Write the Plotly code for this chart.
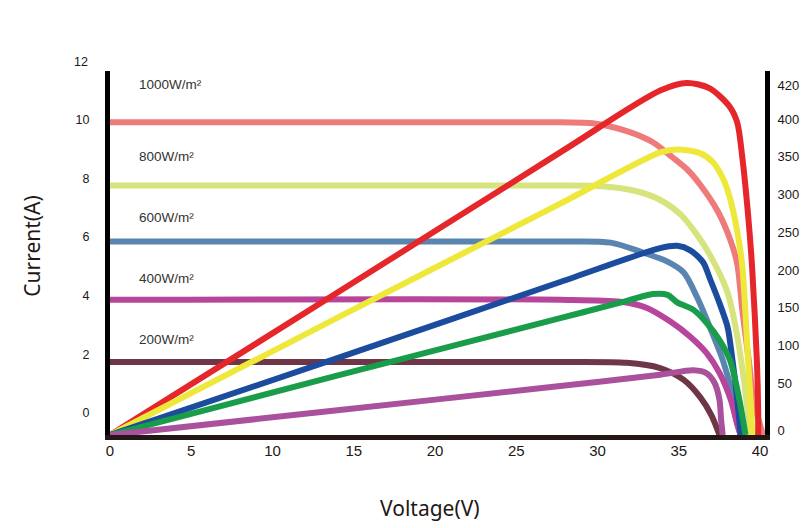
import plotly.graph_objects as go

# ---- I-V curves (current, A) ----
v_iv_1000 = [0, 27.7, 29.7, 31.8, 33.4, 34.6, 35.5, 36.3, 37.4, 38.2, 38.6, 38.9, 39.3, 39.6, 40.0, 40.2]
i_iv_1000 = [9.91, 9.91, 9.88, 9.61, 9.23, 8.72, 8.31, 7.79, 6.87, 5.85, 5.06, 3.52, 1.81, 0.44, -0.41, -0.75]

v_iv_800 = [0, 27.7, 30.3, 32.4, 33.8, 35.1, 36.1, 36.9, 38.0, 38.6, 39.0, 39.3, 39.45]
i_iv_800 = [7.76, 7.76, 7.73, 7.56, 7.28, 6.77, 6.09, 5.40, 4.10, 2.60, 1.13, -0.24, -0.75]

v_iv_600 = [0, 27.7, 30.8, 32.8, 34.3, 35.3, 36.1, 36.9, 37.7, 38.3, 38.65, 38.8]
i_iv_600 = [5.85, 5.85, 5.81, 5.47, 5.16, 4.79, 3.97, 2.94, 1.81, 0.62, -0.41, -0.75]

v_iv_400 = [0, 27.7, 31.4, 33.0, 34.5, 35.7, 36.7, 37.5, 38.2, 38.6, 38.8]
i_iv_400 = [3.86, 3.86, 3.79, 3.59, 3.11, 2.60, 2.05, 1.37, 0.44, -0.41, -0.75]

v_iv_200 = [0, 27.7, 31.8, 33.8, 35.3, 36.3, 37.0, 37.5]
i_iv_200 = [1.74, 1.74, 1.71, 1.54, 1.13, 0.55, -0.07, -0.75]

# ---- P-V curves (power, W) ----
v_pv_1000 = [0, 13.85, 27.7, 33.85, 35.5, 36.9, 38.15, 38.6, 38.9, 39.26, 39.5, 39.8, 39.88, 39.88]
p_pv_1000 = [-19, 168, 356, 438, 448, 441, 416, 395, 350, 273, 206, 80, 14, -19]

v_pv_800 = [0, 13.85, 27.7, 33.85, 34.9, 36.3, 37.1, 37.7, 38.15, 38.6, 38.9, 39.26, 39.45, 39.5]
p_pv_800 = [-19, 135, 288, 356, 360, 355, 343, 322, 295, 250, 206, 80, 14, -19]

v_pv_600 = [0, 13.85, 27.7, 33.85, 34.9, 35.7, 36.5, 36.9, 37.5, 38.0, 38.3, 38.6, 38.8]
p_pv_600 = [-19, 82, 184, 229, 232, 226, 210, 189, 156, 124, 80, 27, -19]

v_pv_400 = [0, 13.85, 27.7, 31.8, 33.4, 34.3, 34.9, 35.9, 36.7, 37.5, 38.15, 38.6, 38.95, 39.1]
p_pv_400 = [-19, 59, 136, 159, 168, 167, 157, 147, 130, 107, 80, 41, 1, -19]

v_pv_200 = [0, 13.85, 27.7, 33.85, 35.9, 36.7, 37.2, 37.5, 37.6, 37.7]
p_pv_200 = [-19, 13.5, 46, 61, 67, 63, 50, 27.5, 1, -19]

# ---- labels / ticks ----
irradiance_labels = ["1000W/m²", "800W/m²", "600W/m²", "400W/m²", "200W/m²"]
irradiance_label_y = [11.2, 8.75, 6.67, 4.58, 2.5]
x_ticks = [0, 5, 10, 15, 20, 25, 30, 35, 40]
left_ticks = [0, 2, 4, 6, 8, 10]
right_tick_vals = [-12.3, 50, 100, 150, 200, 250, 300, 350, 400, 445]
right_tick_text = ["0", "50", "100", "150", "200", "250", "300", "350", "400", "420"]

iv_colors = ["#ee7b79", "#d7e47e", "#5b85b1", "#b6459b", "#6e3646"]
pv_colors = ["#e5262a", "#eee83b", "#1b4c9d", "#1a9d4b", "#a9519c"]

iv_sets = [(v_iv_1000, i_iv_1000), (v_iv_800, i_iv_800), (v_iv_600, i_iv_600),
           (v_iv_400, i_iv_400), (v_iv_200, i_iv_200)]
pv_sets = [(v_pv_1000, p_pv_1000), (v_pv_800, p_pv_800), (v_pv_600, p_pv_600),
           (v_pv_400, p_pv_400), (v_pv_200, p_pv_200)]

fig = go.Figure()
for (v, i), c in zip(iv_sets, iv_colors):
    fig.add_trace(go.Scatter(x=v, y=i, mode="lines", yaxis="y",
                             line=dict(color=c, width=6, shape="spline", smoothing=0.8),
                             showlegend=False, hoverinfo="skip"))
for (v, p), c in zip(pv_sets, pv_colors):
    fig.add_trace(go.Scatter(x=v, y=p, mode="lines", yaxis="y2",
                             line=dict(color=c, width=6, shape="spline", smoothing=0.8),
                             showlegend=False, hoverinfo="skip"))

annotations = []
for txt, yy in zip(irradiance_labels, irradiance_label_y):
    annotations.append(dict(text=txt, x=1.65, y=yy, xref="x", yref="y", xanchor="left",
                            yanchor="middle", showarrow=False,
                            font=dict(family="Liberation Sans, Arial", size=13.5, color="#333333")))
annotations.append(dict(text="12", x=0, y=1.025, xref="paper", yref="paper", xanchor="right",
                        yanchor="middle", xshift=-20, showarrow=False,
                        font=dict(family="Liberation Sans, Arial", size=12.5, color="#231815")))
annotations.append(dict(text="Voltage(V)", x=0.489, y=-0.2, xref="paper", yref="paper",
                        xanchor="center", yanchor="middle", showarrow=False,
                        font=dict(family="Noto Sans", size=21, color="#231815")))
annotations.append(dict(text="Current(A)", x=-0.119, y=0.52, xref="paper", yref="paper",
                        xanchor="center", yanchor="middle", showarrow=False, textangle=-90,
                        font=dict(family="Noto Sans", size=21, color="#231815")))

# page body adds an 8px offset; figure is sized to fill the rest of the window
fig.update_layout(
    width=803, height=520,
    margin=dict(l=102, r=46, t=63, b=93),
    paper_bgcolor="white", plot_bgcolor="white",
    xaxis=dict(range=[0, 40.3], tickvals=x_ticks, showgrid=False, zeroline=False,
               showline=True, linecolor="#231815", linewidth=5, ticks="",
               ticklabelstandoff=-2,
               tickfont=dict(family="Liberation Sans, Arial", size=15, color="#231815")),
    yaxis=dict(range=[-0.75, 11.66], tickvals=left_ticks, showgrid=False, zeroline=False,
               showline=True, linecolor="#000000", linewidth=5, ticks="",
               ticklabelstandoff=13,
               tickfont=dict(family="Liberation Sans, Arial", size=12.5, color="#231815")),
    yaxis2=dict(range=[-19, 464], overlaying="y", side="right", tickvals=right_tick_vals,
                ticktext=right_tick_text, showgrid=False, zeroline=False,
                showline=True, linecolor="#000000", linewidth=5, ticks="",
                ticklabelstandoff=5,
                tickfont=dict(family="Liberation Sans, Arial", size=13, color="#231815")),
    annotations=annotations,
)

fig.write_html("out.html")
